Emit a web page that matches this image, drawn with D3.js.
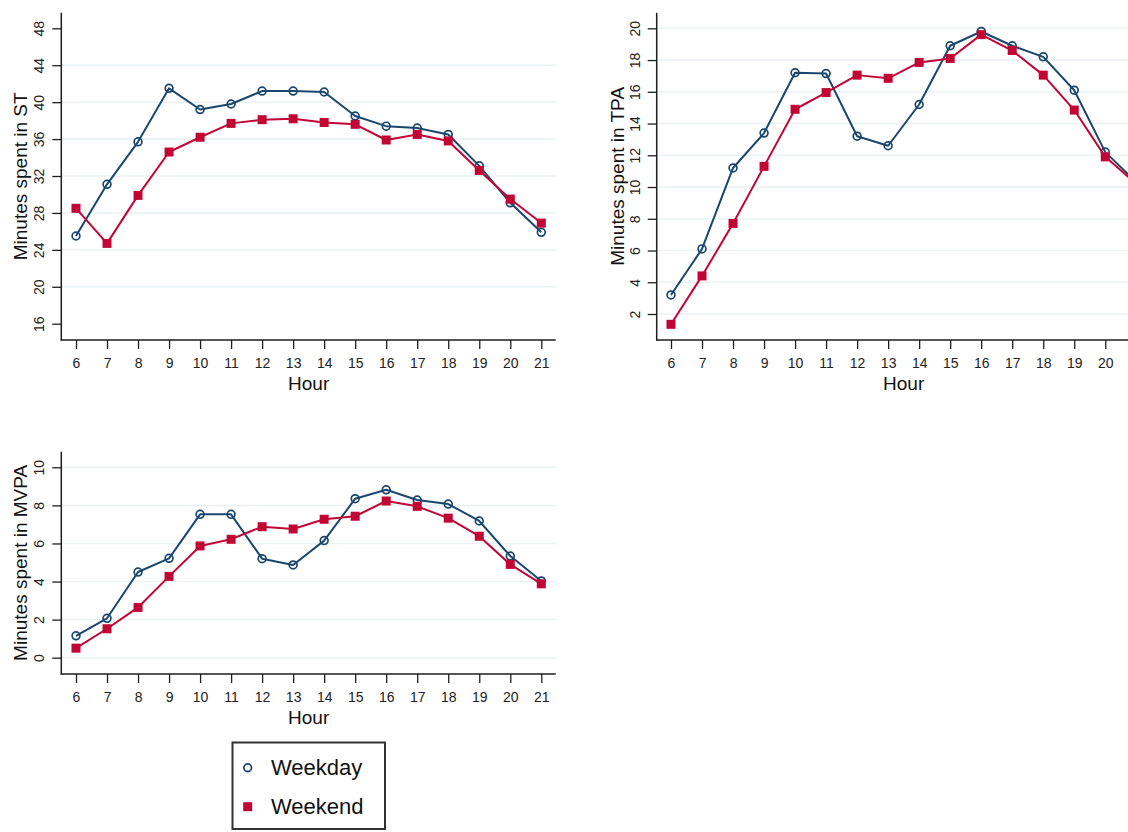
<!DOCTYPE html>
<html>
<head>
<meta charset="utf-8">
<script src="https://cdn.jsdelivr.net/npm/d3@7"></script>
<style>
  html, body { margin: 0; padding: 0; background: #ffffff; }
  svg { display: block; font-family: "Liberation Sans", Arial, sans-serif; }
</style>
</head>
<body>
<svg id="chart" width="1128" height="832"></svg>
<script>
// ---------- data ----------
const hours = [6, 7, 8, 9, 10, 11, 12, 13, 14, 15, 16, 17, 18, 19, 20, 21];

const stWeekday  = [25.5, 31.1, 35.7, 41.5, 39.2, 39.8, 41.2, 41.2, 41.1, 38.5, 37.4, 37.2, 36.5, 33.1, 29.1, 25.9];
const stWeekend  = [28.5, 24.7, 29.9, 34.6, 36.2, 37.7, 38.1, 38.2, 37.8, 37.6, 35.9, 36.5, 35.8, 32.6, 29.5, 26.9];

const tpaWeekday = [3.2, 6.1, 11.2, 13.4, 17.2, 17.15, 13.2, 12.6, 15.2, 18.9, 19.8, 18.9, 18.2, 16.1, 12.2, 10.3];
const tpaWeekend = [1.35, 4.4, 7.7, 11.3, 14.9, 15.95, 17.05, 16.85, 17.85, 18.1, 19.6, 18.6, 17.05, 14.85, 11.9, 10.2];

const mvpaWeekday = [1.15, 2.07, 4.5, 5.22, 7.53, 7.53, 5.2, 4.87, 6.15, 8.35, 8.82, 8.28, 8.07, 7.18, 5.34, 4.03];
const mvpaWeekend = [0.5, 1.52, 2.64, 4.27, 5.87, 6.22, 6.88, 6.76, 7.27, 7.43, 8.23, 7.95, 7.33, 6.38, 4.9, 3.88];

const stTicks   = [16, 20, 24, 28, 32, 36, 40, 44, 48];
const stGrid    = [20, 24, 28, 32, 36, 40, 44];
const tpaTicks  = [2, 4, 6, 8, 10, 12, 14, 16, 18, 20];
const tpaGrid   = [2, 4, 6, 8, 10, 12, 14, 16, 18, 20];
const mvpaTicks = [0, 2, 4, 6, 8, 10];
const mvpaGrid  = [0, 2, 4, 6, 8, 10];

const seriesNames = ["Weekday", "Weekend"];
const yTitles = ["Minutes spent in ST", "Minutes spent in TPA", "Minutes spent in MVPA"];
const xTitle = "Hour";

// ---------- style ----------
const navy = "#1a476f";
const red  = "#c10534";
const grid = "#eaf2f3";
const axisColor = "#1e1e1e";
const W = 1128;

// ---------- layout ----------
const panels = [
  { title: yTitles[0], wd: stWeekday,   we: stWeekend,   ticks: stTicks,   grid: stGrid,
    yAxisX: 61.3, xAxisY: 340, top: 12.7, right: 555.7,
    xr: [76, 541.3], yd: [16, 48], yr: [323.7, 28.3], titleX: 20 },
  { title: yTitles[1], wd: tpaWeekday,  we: tpaWeekend,  ticks: tpaTicks,  grid: tpaGrid,
    yAxisX: 656.7, xAxisY: 340, top: 12.7, right: 1150,
    xr: [671, 1136.3], yd: [2, 20], yr: [314, 28.3], titleX: 617 },
  { title: yTitles[2], wd: mvpaWeekday, we: mvpaWeekend, ticks: mvpaTicks, grid: mvpaGrid,
    yAxisX: 61.3, xAxisY: 674, top: 451.7, right: 555.7,
    xr: [76, 541.3], yd: [0, 10], yr: [657.7, 467.3], titleX: 20 }
];

const svg = d3.select("#chart");

panels.forEach(p => {
  const x = d3.scaleLinear().domain([hours[0], hours[hours.length - 1]]).range(p.xr);
  const y = d3.scaleLinear().domain(p.yd).range(p.yr);
  const g = svg.append("g");

  // gridlines
  g.append("g").selectAll("line").data(p.grid).join("line")
    .attr("x1", p.yAxisX).attr("x2", p.right)
    .attr("y1", d => y(d)).attr("y2", d => y(d))
    .attr("stroke", grid).attr("stroke-width", 1.5);

  // y axis
  const ya = g.append("g").attr("transform", `translate(${p.yAxisX},0)`)
    .call(d3.axisLeft(y).tickValues(p.ticks).tickSize(9).tickFormat(d3.format("d")));
  ya.select(".domain").remove();
  ya.selectAll(".tick line").attr("stroke", axisColor).attr("stroke-width", 1.3);
  ya.selectAll(".tick text")
    .attr("x", 0).attr("y", -22).attr("dy", null)
    .attr("transform", "rotate(-90)")
    .attr("text-anchor", "middle")
    .attr("dominant-baseline", "central")
    .attr("fill", "#222").style("font-size", "14px")
    .style("font-family", "'Liberation Sans', Arial, sans-serif");

  // x axis (labels falling past the picture's right edge are not shown, as in the reference)
  const xa = g.append("g").attr("transform", `translate(0,${p.xAxisY})`)
    .call(d3.axisBottom(x).tickValues(hours).tickSize(9).tickFormat(d3.format("d")));
  xa.select(".domain").remove();
  xa.selectAll(".tick line").attr("stroke", axisColor).attr("stroke-width", 1.3);
  xa.selectAll(".tick text")
    .attr("y", 23).attr("dy", null)
    .attr("dominant-baseline", "central")
    .attr("fill", "#222").style("font-size", "14px")
    .style("font-family", "'Liberation Sans', Arial, sans-serif");
  xa.selectAll(".tick text").filter(d => x(d) + 8 > W).remove();

  // axis lines
  g.append("line").attr("x1", p.yAxisX).attr("x2", p.yAxisX)
    .attr("y1", p.top).attr("y2", p.xAxisY + 0.6)
    .attr("stroke", axisColor).attr("stroke-width", 1.5);
  g.append("line").attr("x1", p.yAxisX - 0.6).attr("x2", p.right)
    .attr("y1", p.xAxisY).attr("y2", p.xAxisY)
    .attr("stroke", axisColor).attr("stroke-width", 1.5);

  // titles
  g.append("text")
    .attr("transform", `translate(${p.titleX},${(p.top + p.xAxisY) / 2}) rotate(-90)`)
    .attr("text-anchor", "middle").attr("dominant-baseline", "central")
    .attr("fill", "#111").style("font-size", "19px")
    .text(p.title);
  g.append("text")
    .attr("x", (p.xr[0] + p.xr[1]) / 2).attr("y", p.xAxisY + 43)
    .attr("text-anchor", "middle").attr("dominant-baseline", "central")
    .attr("fill", "#111").style("font-size", "19px")
    .text(xTitle);

  const line = d3.line().x((d, i) => x(hours[i])).y(d => y(d));

  // weekday
  g.append("path").datum(p.wd).attr("d", line)
    .attr("fill", "none").attr("stroke", navy).attr("stroke-width", 2)
    .attr("stroke-linejoin", "round");
  g.append("g").selectAll("circle").data(p.wd).join("circle")
    .attr("cx", (d, i) => x(hours[i])).attr("cy", d => y(d)).attr("r", 3.9)
    .attr("fill", "none").attr("stroke", navy).attr("stroke-width", 1.7);

  // weekend
  g.append("path").datum(p.we).attr("d", line)
    .attr("fill", "none").attr("stroke", red).attr("stroke-width", 2)
    .attr("stroke-linejoin", "round");
  g.append("g").selectAll("rect").data(p.we).join("rect")
    .attr("x", (d, i) => x(hours[i]) - 4.5).attr("y", d => y(d) - 4.5)
    .attr("width", 9).attr("height", 9)
    .attr("fill", red);
});

// ---------- legend ----------
const lg = svg.append("g");
lg.append("rect").attr("x", 232.5).attr("y", 742.5).attr("width", 152.5).attr("height", 86.5)
  .attr("fill", "#fff").attr("stroke", "#333").attr("stroke-width", 2);
lg.append("circle").attr("cx", 247.7).attr("cy", 767.7).attr("r", 3.8)
  .attr("fill", "none").attr("stroke", navy).attr("stroke-width", 1.8);
lg.append("rect").attr("x", 243.2).attr("y", 802.2).attr("width", 9).attr("height", 9)
  .attr("fill", red);
lg.append("text").attr("x", 271).attr("y", 767.5).attr("dominant-baseline", "central")
  .attr("fill", "#111").style("font-size", "22px").text(seriesNames[0]);
lg.append("text").attr("x", 271).attr("y", 806.5).attr("dominant-baseline", "central")
  .attr("fill", "#111").style("font-size", "22px").text(seriesNames[1]);
</script>
</body>
</html>
